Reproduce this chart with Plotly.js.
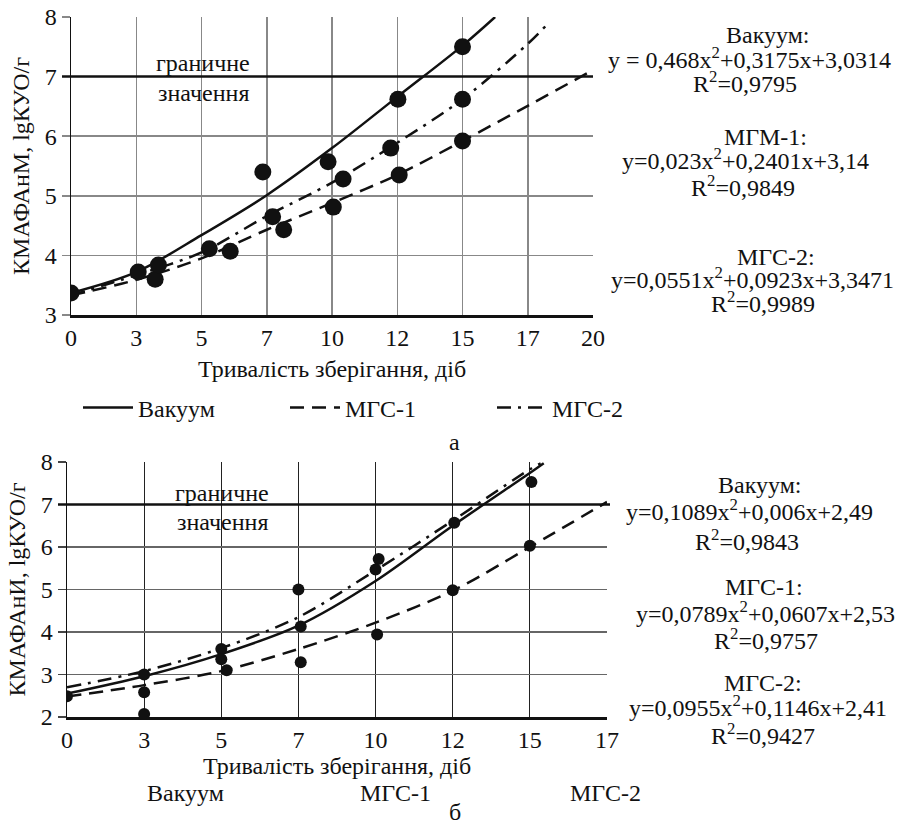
<!DOCTYPE html>
<html>
<head>
<meta charset="utf-8">
<script src="https://cdn.plot.ly/plotly-3.0.1.min.js"></script>
<style>html,body{margin:0;padding:0;background:#fff}#chart{width:905px;height:828px}</style>
</head>
<body>
<div id="chart"></div>
<script>
// ---------- DATA ----------
// x positions are the ordinal tick positions of the reference axes
const topTickPos = [0, 1, 2, 3, 4, 5, 6, 7, 8];
const topTickText = ['0', '3', '5', '7', '10', '12', '15', '17', '20'];
const botTickPos = [0, 1, 2, 3, 4, 5, 6, 7];
const botTickText = ['0', '3', '5', '7', '10', '12', '15', '17'];

// panel а: measured points
const topPtsX = [0, 1.03, 1.29, 1.34, 2.12, 2.44, 2.94, 3.09, 3.26, 3.94, 4.02, 4.17, 4.9, 5.01, 5.03, 6, 6, 6];
const topPtsY = [3.37, 3.72, 3.6, 3.84, 4.11, 4.07, 5.40, 4.65, 4.43, 5.57, 4.81, 5.28, 5.8, 6.62, 5.35, 7.5, 6.62, 5.92];
// panel а: trend curves
const topVacX = [0, 1, 2, 3, 4, 5, 6, 6.5];
const topVacY = [3.37, 3.72, 4.34, 5.01, 5.8, 6.66, 7.52, 8.0];
const topMgs1X = [0, 1, 2, 3, 4, 5, 6, 7, 8];
const topMgs1Y = [3.33, 3.59, 3.95, 4.43, 4.88, 5.35, 5.92, 6.51, 7.11];
const topMgs2X = [0, 1, 2, 3, 4, 5, 6, 7, 7.32];
const topMgs2Y = [3.33, 3.67, 4.05, 4.66, 5.22, 5.89, 6.62, 7.55, 7.9];

// panel б: measured points
const botPtsX = [0, 1, 1, 1, 2, 2, 2.07, 3, 3.03, 3.03, 4.04, 4, 4.02, 5, 5.02, 6, 6.02];
const botPtsY = [2.49, 3.0, 2.58, 2.07, 3.6, 3.36, 3.1, 5.0, 4.13, 3.29, 5.72, 5.47, 3.94, 4.98, 6.57, 6.03, 7.53];
// panel б: trend curves
const botVacX = [0, 1, 2, 3, 4, 5, 6, 6.18];
const botVacY = [2.55, 2.96, 3.48, 4.15, 5.2, 6.5, 7.74, 7.97];
const botMgs1X = [0, 1, 2, 3, 4, 5, 6, 7];
const botMgs1Y = [2.48, 2.75, 3.08, 3.6, 4.22, 4.97, 6.0, 7.06];
const botMgs2X = [0, 1, 2, 3, 4, 5, 6, 6.14];
const botMgs2Y = [2.7, 3.08, 3.62, 4.35, 5.45, 6.62, 7.83, 7.97];

const limitValue = 7;
const seriesNames = ['Вакуум', 'МГС-1', 'МГС-2'];

const topEq = [
  ['Вакуум:', 'y = 0,468x<sup>2</sup>+0,3175x+3,0314', 'R<sup>2</sup>=0,9795'],
  ['МГМ-1:', 'y=0,023x<sup>2</sup>+0,2401x+3,14', 'R<sup>2</sup>=0,9849'],
  ['МГС-2:', 'y=0,0551x<sup>2</sup>+0,0923x+3,3471', 'R<sup>2</sup>=0,9989']
];
const botEq = [
  ['Вакуум:', 'y=0,1089x<sup>2</sup>+0,006x+2,49', 'R<sup>2</sup>=0,9843'],
  ['МГС-1:', 'y=0,0789x<sup>2</sup>+0,0607x+2,53', 'R<sup>2</sup>=0,9757'],
  ['МГС-2:', 'y=0,0955x<sup>2</sup>+0,1146x+2,41', 'R<sup>2</sup>=0,9427']
];

// ---------- STYLE / LAYOUT ----------
const W = 905, H = 828;
const FONT = 'Liberation Serif';
const px = v => v / W;
const py = v => 1 - v / H;
const SOLID = 'solid', DASH = '14px,8px', DASHDOT = '14px,7px,3px,7px';

function curve(x, y, dash, name, xa, ya, showlegend) {
  return {x, y, xaxis: xa, yaxis: ya, type: 'scatter', mode: 'lines', name,
    line: {color: '#111', width: 2.5, dash, shape: 'spline', smoothing: 0.9},
    showlegend, hoverinfo: 'skip'};
}
const traces = [
  curve(topVacX, topVacY, SOLID, seriesNames[0], 'x', 'y', true),
  curve(topMgs1X, topMgs1Y, DASH, seriesNames[1], 'x', 'y', true),
  curve(topMgs2X, topMgs2Y, DASHDOT, seriesNames[2], 'x', 'y', true),
  {x: topPtsX, y: topPtsY, xaxis: 'x', yaxis: 'y', type: 'scatter', mode: 'markers',
   marker: {color: '#111', size: 17}, showlegend: false, name: 'points а'},
  curve(botVacX, botVacY, SOLID, seriesNames[0], 'x2', 'y2', false),
  curve(botMgs1X, botMgs1Y, DASH, seriesNames[1], 'x2', 'y2', false),
  curve(botMgs2X, botMgs2Y, DASHDOT, seriesNames[2], 'x2', 'y2', false),
  {x: botPtsX, y: botPtsY, xaxis: 'x2', yaxis: 'y2', type: 'scatter', mode: 'markers',
   marker: {color: '#111', size: 12}, showlegend: false, name: 'points б'}
];

const tickFont = {family: FONT, size: 24, color: '#111'};
const layout = {
  width: W, height: H, autosize: false,
  margin: {l: 0, r: 0, t: 0, b: 0},
  paper_bgcolor: '#fff', plot_bgcolor: '#fff',
  font: {family: FONT, size: 24, color: '#111'},
  xaxis: {domain: [px(71), px(593)], range: [0, 8], tickmode: 'array', tickvals: topTickPos, ticktext: topTickText,
    showgrid: true, gridcolor: '#888', gridwidth: 1.5, zeroline: false, showline: true, linecolor: '#111', linewidth: 2.5,
    ticks: '', tickfont: tickFont, anchor: 'y', fixedrange: true,
    title: {text: 'Тривалість зберігання, діб', font: {family: FONT, size: 24, color: '#111'}, standoff: 10}},
  yaxis: {domain: [py(315), py(17)], range: [3, 8], tickvals: [3, 4, 5, 6, 7, 8],
    showgrid: true, gridcolor: '#888', gridwidth: 1.5, zeroline: false, showline: true, linecolor: '#111', linewidth: 1.5,
    ticks: 'outside', ticklen: 8, tickcolor: '#888', tickwidth: 1.5, tickfont: tickFont, anchor: 'x', fixedrange: true,
    title: {text: 'КМАФАнМ, lgКУО/г', font: {family: FONT, size: 24, color: '#111'}, standoff: 8}},
  xaxis2: {domain: [px(67), px(607)], range: [0, 7], tickmode: 'array', tickvals: botTickPos, ticktext: botTickText,
    showgrid: true, gridcolor: '#222', gridwidth: 1.2, zeroline: false, showline: true, linecolor: '#111', linewidth: 2.5,
    ticks: '', tickfont: tickFont, anchor: 'y2', fixedrange: true,
    title: {text: 'Тривалість зберігання, діб', font: {family: FONT, size: 24, color: '#111'}, standoff: 0}},
  yaxis2: {domain: [py(717), py(462)], range: [2, 8], tickvals: [2, 3, 4, 5, 6, 7, 8],
    showgrid: true, gridcolor: '#666', gridwidth: 1.5, zeroline: false, showline: true, linecolor: '#111', linewidth: 1.5,
    ticks: 'outside', ticklen: 8, tickcolor: '#444', tickwidth: 1.5, tickfont: tickFont, anchor: 'x2', fixedrange: true,
    title: {text: 'КМАФАнИ, lgКУО/г', font: {family: FONT, size: 24, color: '#111'}, standoff: 8}},
  showlegend: true,
  legend: {orientation: 'h', x: px(78), y: py(408), xanchor: 'left', yanchor: 'middle',
    font: {family: FONT, size: 24, color: '#111'}, itemwidth: 50, entrywidth: 142, entrywidthmode: 'pixels',
    bgcolor: 'rgba(0,0,0,0)', tracegroupgap: 0},
  shapes: [
    // dark vertical grid lines of panel а
    {type: 'line', xref: 'x', yref: 'y', x0: 3, x1: 3, y0: 3, y1: 8, line: {color: '#111', width: 1.5}, layer: 'below'},
    {type: 'line', xref: 'x', yref: 'y', x0: 7, x1: 7, y0: 3, y1: 8, line: {color: '#111', width: 1.5}, layer: 'below'},
    // limit lines
    {type: 'line', xref: 'paper', yref: 'y', x0: px(62), x1: px(593), y0: limitValue, y1: limitValue, line: {color: '#111', width: 2.5}},
    {type: 'line', xref: 'paper', yref: 'y2', x0: px(58), x1: px(610), y0: limitValue, y1: limitValue, line: {color: '#111', width: 2.5}}
  ],
  annotations: []
};

function note(text, x, y, size) {
  layout.annotations.push({text, xref: 'paper', yref: 'paper', x: px(x), y: py(y),
    xanchor: 'center', yanchor: 'middle', showarrow: false,
    font: {family: FONT, size: size || 24, color: '#111'}});
}
note('граничне', 203, 63); note('значення', 203, 93);
note('граничне', 222, 493); note('значення', 222, 522);
note('а', 454, 442); note('б', 455, 812);
note(seriesNames[0], 185, 793); note(seriesNames[1], 395, 793); note(seriesNames[2], 605, 793);

const topCx = [[768, 749, 745], [765, 745, 743], [776, 752, 763]];
const topCy = [[35, 58, 82], [137, 159, 186], [257, 278, 302]];
const botCx = [[760, 749, 747], [764, 765, 766], [763, 758, 763]];
const botCy = [[485, 510, 540], [587, 612, 639], [683, 706, 734]];
for (let i = 0; i < 3; i++) for (let j = 0; j < 3; j++) {
  note(topEq[i][j], topCx[i][j], topCy[i][j], 24);
  note(botEq[i][j], botCx[i][j], botCy[i][j], 24);
}

Plotly.newPlot('chart', traces, layout, {staticPlot: true, displayModeBar: false});
</script>
</body>
</html>
